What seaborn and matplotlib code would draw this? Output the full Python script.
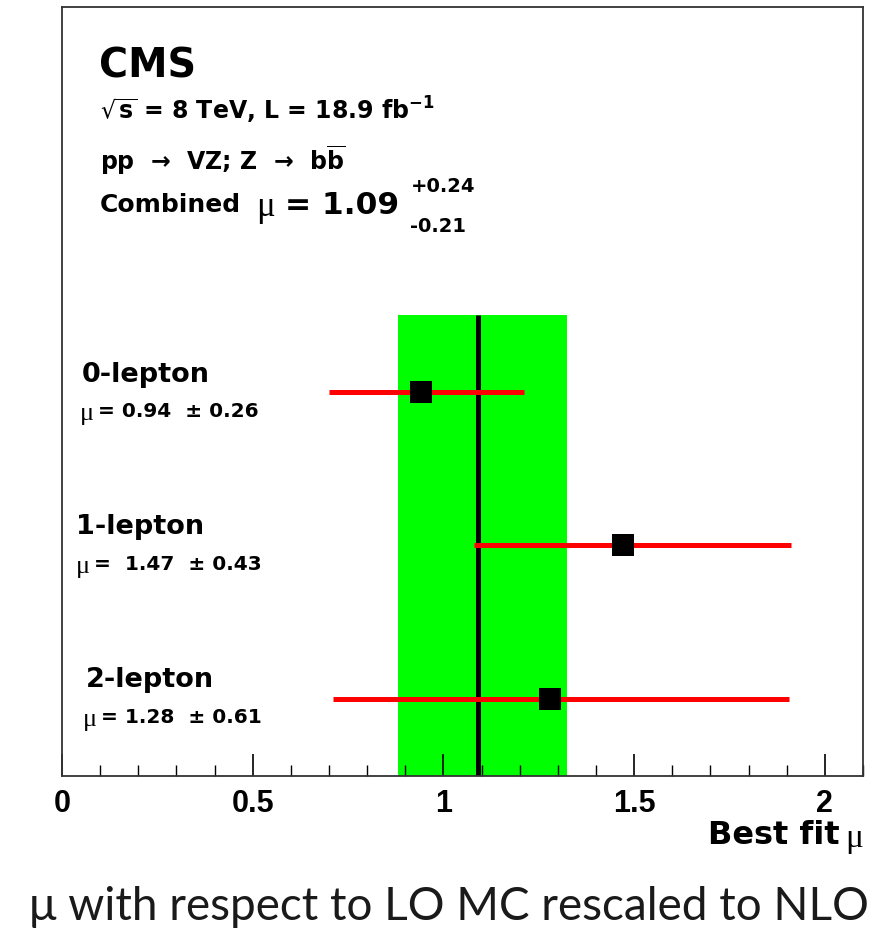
import matplotlib
matplotlib.use("Agg")
import matplotlib.pyplot as plt
import seaborn as sns
import pandas as pd
import numpy as np
from matplotlib.ticker import MultipleLocator

sns.set_theme(style="white")
plt.rcParams['font.family'] = ['DejaVu Sans']
plt.rcParams['mathtext.fontset'] = 'dejavusans'

# ---- data ----
channels = ["0-lepton", "1-lepton", "2-lepton"]
mu_values = [0.94, 1.47, 1.28]
err_low = [0.70, 1.08, 0.71]     # drawn lower ends of the bars
err_high = [1.21, 1.91, 1.905]   # drawn upper ends of the bars
label_texts = ["= 0.94  \u00b1 0.26", "=  1.47  \u00b1 0.43", "= 1.28  \u00b1 0.61"]
row_pos = [2.5, 1.5, 0.5]
combined_mu = 1.09
combined_lo = 0.88
combined_hi = 1.325
x_ticks = [0, 0.5, 1, 1.5, 2]
x_tick_labels = ["0", "0.5", "1", "1.5", "2"]

df = pd.DataFrame({"channel": channels, "mu": mu_values, "lo": err_low,
                   "hi": err_high, "y": row_pos})

W, H = 886, 937
fig = plt.figure(figsize=(W / 100, H / 100), dpi=100)
ax = fig.add_axes([62 / W, 1 - 777 / H, (863 - 62) / W, (777 - 8) / H])

ax.set_xlim(0, 2.1)
ax.set_ylim(0, 5)
ax.set_axisbelow(False)

# combined band + line
ax.fill_between([combined_lo, combined_hi], 0, 3.0, color="#00ff00", lw=0, zorder=1)
ax.vlines(combined_mu, 0, 3.0, color="black", lw=3.6, zorder=2)

# error bars
ax.hlines(df["y"], df["lo"], df["hi"], color="#ff0000", lw=3.6, zorder=3)
sns.scatterplot(data=df, x="mu", y="y", marker="s", s=16 ** 2, color="black",
                edgecolor="black", linewidth=0, ax=ax, zorder=4, legend=False)

# axes styling
ax.set_xticks(x_ticks)
ax.set_xticklabels(x_tick_labels, fontsize=22, fontweight="bold", color="black",
                   family=["Liberation Sans", "DejaVu Sans"])
ax.xaxis.set_minor_locator(MultipleLocator(0.1))
ax.tick_params(axis="x", which="major", direction="in", length=16, width=1.2,
               color="black", labelcolor="black", bottom=True, pad=9)
ax.tick_params(axis="x", which="minor", direction="in", length=8, width=1.0,
               color="black", bottom=True)
ax.set_yticks([])
ax.set_xlabel("")
ax.set_ylabel("")
for sp in ax.spines.values():
    sp.set_color("#333333")
    sp.set_linewidth(1.3)
    sp.set_zorder(6)

# helper: pixel -> data
def X(px):
    return (px - 62) / 381.0
def Y(py):
    return (777 - py) / 153.8

SERIF = ["Liberation Serif", "DejaVu Serif"]
bold = dict(fontweight="bold", color="black")
ax.text(X(99), Y(67), "CMS", fontsize=28.5, va="center", ha="left", **bold)
ax.text(X(100), Y(110), "$\\mathbf{\\sqrt{s}}$ = 8 TeV, L = 18.9 fb$^{\\mathbf{-1}}$",
        fontsize=17, va="center", ha="left", **bold)
ax.text(X(100), Y(160), "pp  \u2192  VZ; Z  \u2192  b$\\mathbf{\\overline{b}}$", fontsize=17,
        va="center", ha="left", **bold)
ax.text(X(100), Y(205), "Combined", fontsize=18, va="center", ha="left", **bold)
ax.text(X(256), Y(208), "\u03bc", fontsize=25, va="center", ha="left",
        family=SERIF, color="black")
ax.text(X(285), Y(205), "= 1.09", fontsize=22.5, va="center", ha="left", **bold)
ax.text(X(410), Y(186), "+0.24", fontsize=14, va="center", ha="left", **bold)
ax.text(X(410), Y(226), "-0.21", fontsize=14, va="center", ha="left", **bold)

name_x = [82, 76, 86]
name_y = [375, 527, 680]
val_x = [80, 76, 83]
val_y = [412, 565, 718]
for i in range(3):
    ax.text(X(name_x[i]), Y(name_y[i]), channels[i], fontsize=19.5, va="center",
            ha="left", **bold)
    ax.text(X(val_x[i]), Y(val_y[i] + 2), "\u03bc", fontsize=19, va="center",
            ha="left", family=SERIF, color="black")
    ax.text(X(val_x[i] + 18), Y(val_y[i]), label_texts[i], fontsize=14.5, va="center",
            ha="left", **bold)

fig.text(840 / W, 1 - 836 / H, "Best fit", fontsize=23, ha="right", va="center", **bold)
fig.text(845 / W, 1 - 839 / H, "\u03bc", fontsize=24, ha="left", va="center",
         family=SERIF, color="black")

fig.text(449 / W, 1 - 907 / H, "\u03bc with respect to LO MC rescaled to NLO",
         fontsize=33, ha="center", va="center", color="#1a1a1a",
         family=["Lato", "DejaVu Sans"], fontweight="normal")

fig.savefig("out.png", dpi=100)
